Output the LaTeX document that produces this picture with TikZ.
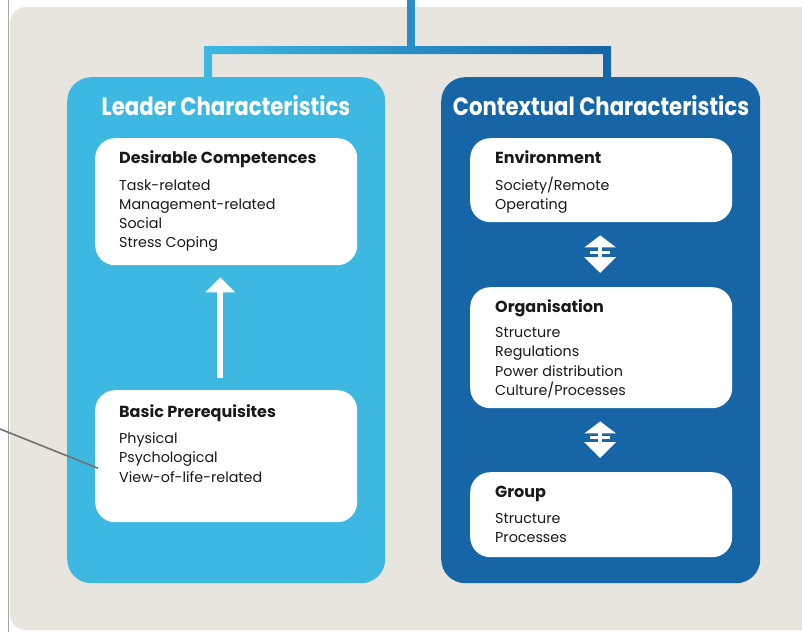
\documentclass[tikz,border=0pt]{standalone}
\usepackage{fontspec}
\setmainfont{Poppins}
\newfontfamily\titlefont[FakeStretch=0.85]{Poppins}
\usetikzlibrary{arrows.meta,calc}
\definecolor{beige}{HTML}{E8E5DE}
\definecolor{lblue}{HTML}{3DB8E0}
\definecolor{dblue}{HTML}{1565A7}
\definecolor{mblue}{HTML}{2A8CCB}
\definecolor{txt}{HTML}{1A1A1A}
\begin{document}
\begin{tikzpicture}[x=1pt,y=-1pt,
  panel/.style={rounded corners=24pt,inner sep=0pt,anchor=north west},
  wbox/.style={fill=white,rounded corners=20pt,inner sep=0pt,anchor=north west},
  ptitle/.style={text=white,font=\titlefont\fontsize{25}{28}\selectfont\bfseries,anchor=base,inner sep=0pt},
  head/.style={text=txt,font=\fontsize{16}{18}\selectfont\bfseries,anchor=base west,inner sep=0pt},
  item/.style={text=txt,font=\fontsize{14.3}{18}\selectfont,anchor=base west,inner sep=0pt},
  uparrow/.style={white,line width=5.5pt,-{Triangle[width=29pt,length=15pt]}},
  dblarrow/.style={white,line width=4pt,{Triangle[width=31pt,length=12pt]}-{Triangle[width=31pt,length=16pt]}},
  midbar/.style={fill=white,minimum width=20pt,minimum height=3pt,inner sep=0pt}
]
\useasboundingbox (0,0) rectangle (802,632);
% background
\fill[beige,rounded corners=16pt] (10,7) rectangle (830,630);
\draw[gray!70,line width=1pt] (8,0) -- (8,632);
% bracket
\fill[mblue] (407,0) rectangle (415,50);
\shade[left color=lblue,right color=dblue]
  (204,82) -- (204,46) -- (611,46) -- (611,82) -- (603,82) -- (603,54) -- (212,54) -- (212,82) -- cycle;
% panels
\node[panel,fill=lblue,minimum width=318pt,minimum height=506pt] (lp) at (67,77) {};
\node[panel,fill=dblue,minimum width=319pt,minimum height=506pt] (rp) at (441,77) {};
\node[ptitle] (lt) at (226,115) {Leader Characteristics};
\node[ptitle] (rt) at (601,115) {Contextual Characteristics};
% white boxes
\node[wbox,minimum width=262pt,minimum height=127pt] (dc) at (95,138) {};
\node[wbox,minimum width=262pt,minimum height=132pt] (bp) at (95,390) {};
\node[wbox,minimum width=262pt,minimum height=84pt] (env) at (470,138) {};
\node[wbox,minimum width=262pt,minimum height=121pt] (org) at (470,287) {};
\node[wbox,minimum width=262pt,minimum height=85pt] (grp) at (470,472) {};
% texts
\node[head] (dch) at (119,163) {Desirable Competences};
\foreach \t [count=\i from 0] in {Task-related,Management-related,Social,Stress Coping}
  \node[item] (dc\i) at (119,190+19.3*\i) {\t};
\node[head] (bph) at (119,417) {Basic Prerequisites};
\foreach \t [count=\i from 0] in {Physical,Psychological,View-of-life-related}
  \node[item] (bp\i) at (119,443+19.5*\i) {\t};
\node[head] (envh) at (495,163) {Environment};
\foreach \t [count=\i from 0] in {Society/Remote,Operating}
  \node[item] (env\i) at (495,190+19.5*\i) {\t};
\node[head] (orgh) at (495,312) {Organisation};
\foreach \t [count=\i from 0] in {Structure,Regulations,Power distribution,Culture/Processes}
  \node[item] (org\i) at (495,337+19.5*\i) {\t};
\node[head] (grph) at (495,497) {Group};
\foreach \t [count=\i from 0] in {Structure,Processes}
  \node[item] (grp\i) at (495,523+19.8*\i) {\t};
% arrows
\draw[uparrow,shorten <=12pt,shorten >=12pt] ([xshift=-6pt]bp.north) -- ([xshift=-6pt]dc.south);
\draw[dblarrow,shorten <=13pt,shorten >=14pt] ([xshift=-1pt]env.south) -- ([xshift=-1pt]org.north)
  node[midbar,pos=0.46] (b1) {};
\draw[dblarrow,shorten <=13pt,shorten >=14pt] ([xshift=-1pt]org.south) -- ([xshift=-1pt]grp.north)
  node[midbar,pos=0.46] (b2) {};
% callout line
\coordinate (lead) at (0,429);
\draw[gray!90!black,line width=1.6pt] (lead) -- ($(bp.west)+(3,12)$);
\end{tikzpicture}
\end{document}
